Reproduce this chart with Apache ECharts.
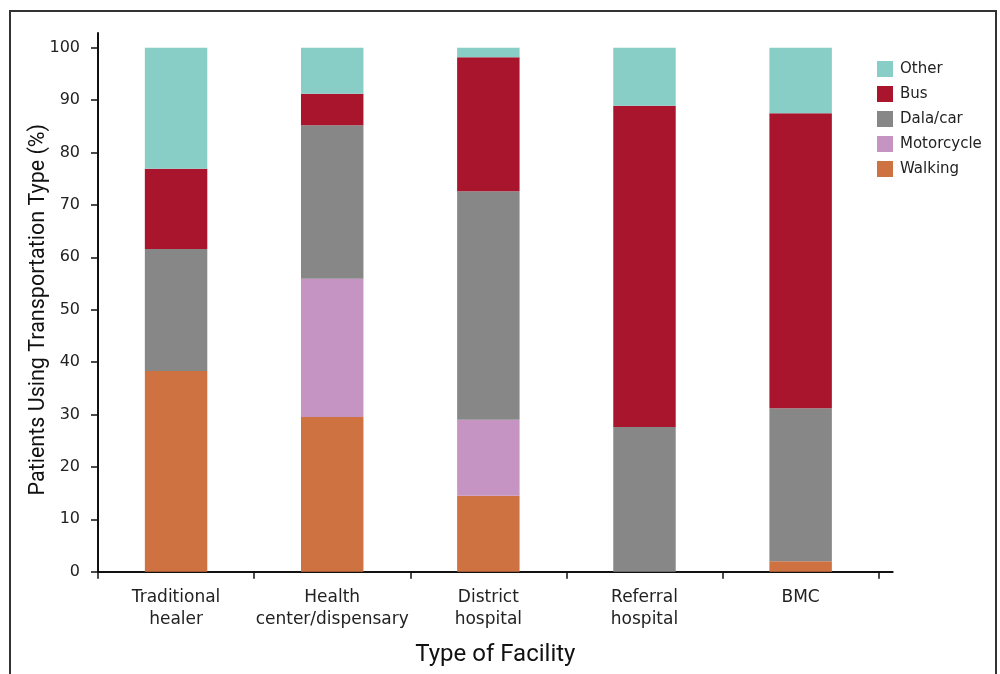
<!DOCTYPE html>
<html>
<head>
<meta charset="utf-8">
<script src="https://cdn.jsdelivr.net/npm/echarts@6/dist/echarts.min.js"></script>
<style>
html,body{margin:0;padding:0;background:#fff;}
#wrap{position:relative;width:1000px;height:674px;}
#chart{position:absolute;left:0;top:0;width:1000px;height:674px;}
#frame{position:absolute;left:9px;top:10px;width:988px;height:680px;border:2px solid #333;border-bottom:none;pointer-events:none;box-sizing:border-box;}
</style>
</head>
<body>
<div id="wrap"><div id="chart"></div><div id="frame"></div></div>
<script>
const categories = ['Traditional\nhealer', 'Health\ncenter/dispensary', 'District\nhospital', 'Referral\nhospital', 'BMC'];
const walking    = [38.3, 29.5, 14.5, 0, 2.0];
const motorcycle = [0, 26.4, 14.5, 0, 0];
const dalaCar    = [23.3, 29.3, 43.6, 27.6, 29.2];
const bus        = [15.3, 6.0, 25.6, 61.3, 56.3];
const other      = [23.1, 8.8, 1.8, 11.1, 12.5];
const yTicks = [0, 10, 20, 30, 40, 50, 60, 70, 80, 90, 100];
const legendOrder = ['Other', 'Bus', 'Dala/car', 'Motorcycle', 'Walking'];

const FONT = '"DejaVu Sans", sans-serif';
const TITLE = 'Roboto, "Liberation Sans", sans-serif';
const chart = echarts.init(document.getElementById('chart'));
const mk = (name, data, color) => ({
  name, type: 'bar', stack: 'total', data, barWidth: '40%',
  xAxisIndex: 0, yAxisIndex: 0,
  itemStyle: { color }, emphasis: { disabled: true }
});
chart.setOption({
  animation: false,
  backgroundColor: '#fff',
  textStyle: { fontFamily: FONT },
  legend: {
    orient: 'vertical', left: 877, top: 61, padding: 0,
    itemWidth: 16, itemHeight: 16, itemGap: 9,
    icon: 'rect',
    data: legendOrder,
    textStyle: { fontFamily: FONT, fontSize: 15, color: '#222', padding: [0, 0, 0, 2] }
  },
  grid: [
    { left: 98, top: 47.7, right: 121.3, bottom: 102.3, containLabel: false },
    { left: 98, top: 33, right: 107.3, bottom: 102.3, containLabel: false }
  ],
  xAxis: [
    {
      type: 'category', gridIndex: 0, data: categories,
      axisLine: { lineStyle: { color: '#111', width: 2 } },
      axisTick: { show: true, interval: 0, length: 7, lineStyle: { color: '#111', width: 1.5 } },
      axisLabel: { interval: 0, color: '#222', fontSize: 17, fontFamily: FONT, margin: 15, lineHeight: 22 }
    },
    {
      type: 'value', gridIndex: 1, min: 0, max: 1,
      axisLine: { show: true, onZero: false, lineStyle: { color: '#111', width: 2 } },
      axisTick: { show: false }, axisLabel: { show: false }, splitLine: { show: false },
      name: 'Type of Facility', nameLocation: 'middle', nameGap: 71, nameMoveOverlap: false,
      nameTextStyle: { fontSize: 24, color: '#111', fontFamily: TITLE }
    }
  ],
  yAxis: [
    {
      type: 'value', gridIndex: 0, min: 0, max: 100, interval: 10,
      axisLine: { show: true, lineStyle: { color: '#111', width: 2 } },
      axisTick: { show: true, length: 7, lineStyle: { color: '#111', width: 1.5 } },
      axisLabel: { color: '#222', fontSize: 16, fontFamily: FONT, margin: 18, customValues: yTicks },
      splitLine: { show: false },
      name: 'Patients Using Transportation Type (%)', nameLocation: 'middle', nameGap: 48, nameMoveOverlap: false,
      nameTextStyle: { fontSize: 21.5, color: '#111', fontFamily: TITLE }
    },
    {
      type: 'value', gridIndex: 1, min: 0, max: 1,
      axisLine: { show: true, onZero: false, lineStyle: { color: '#111', width: 2 } },
      axisTick: { show: false }, axisLabel: { show: false }, splitLine: { show: false }
    }
  ],
  series: [
    mk('Walking', walking, '#CF7242'),
    mk('Motorcycle', motorcycle, '#C594C3'),
    mk('Dala/car', dalaCar, '#878787'),
    mk('Bus', bus, '#A8152D'),
    mk('Other', other, '#89CDC7')
  ]
});
</script>
</body>
</html>
